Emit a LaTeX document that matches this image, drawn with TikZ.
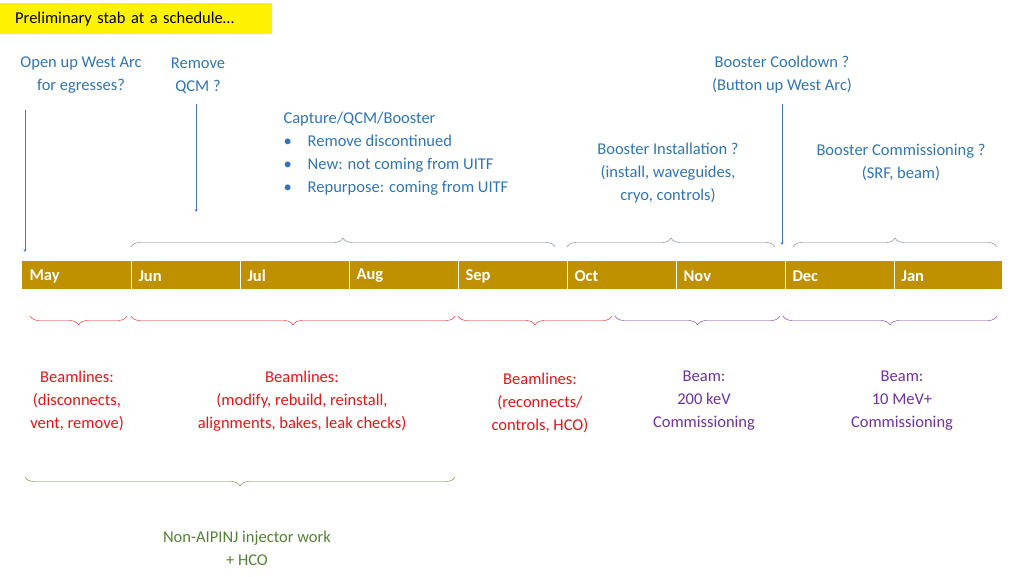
\documentclass[tikz,border=0pt]{standalone}
\usepackage{fontspec}
\setmainfont{Carlito}
\usetikzlibrary{decorations.pathreplacing}
\definecolor{gold}{RGB}{191,144,0}
\definecolor{blu}{RGB}{47,117,181}
\definecolor{arr}{RGB}{68,114,196}
\definecolor{rd}{RGB}{230,20,20}
\definecolor{pur}{RGB}{112,48,160}
\definecolor{grn}{RGB}{84,130,53}
\begin{document}
\begin{tikzpicture}[x=1pt,y=-1pt,
  every node/.style={font=\fontsize{16.5}{23}\selectfont,align=center},
  brace/.style={decorate,decoration={brace,amplitude=9pt}},
  month/.style={text=white,font=\fontsize{16.5}{20}\selectfont\bfseries,anchor=west}]
  \useasboundingbox (0,0) rectangle (1024,576);
  % title
  \node[fill=yellow,minimum width=272pt,minimum height=31pt,anchor=north west,inner xsep=15pt,text width=242pt,align=left] (title) at (0,3) {Preliminary stab at a schedule\dots};
  % month bar
  \fill[gold] (22,261) rectangle (1002,289);
  \foreach \x in {131,240,349,458,567,676,785,894}
    \draw[white,line width=1pt] (\x,261) -- (\x,289);
  \foreach \m [count=\i from 0] in {May,Jun,Jul,Aug,Sep,Oct,Nov,Dec,Jan}
    \node[month] (m\i) at (26+109*\i,276) {\m};
  % top labels
  \node[text=blu] (west) at (81,75) {Open up West Arc\\for egresses?};
  \node[text=blu] (qcm) at (198,76) {Remove\\QCM ?};
  \node[text=blu,anchor=north west,align=left] (cap) at (280,109)
    {Capture/QCM/Booster\\\textbullet\hspace{16pt}Remove discontinued\\\textbullet\hspace{16pt}New: not coming from UITF\\\textbullet\hspace{16pt}Repurpose: coming from UITF};
  \node[text=blu] (inst) at (668,173) {Booster Installation ?\\(install, waveguides,\\cryo, controls)};
  \node[text=blu] (cool) at (782,75) {Booster Cooldown ?\\(Button up West Arc)};
  \node[text=blu] (comm) at (901,162) {Booster Commissioning ?\\(SRF, beam)};
  \coordinate (a1) at (25,252);
  \coordinate (a2) at (196,212);
  \coordinate (a3) at (782,245);
  \draw[arr,-stealth] (25,110) -- (a1);
  \draw[arr,-stealth] (196,104) -- (a2);
  \draw[arr,-stealth] (782,104) -- (a3);
  % top braces
  \draw[gray!80!blu,brace] (131,247) -- (555,247);
  \draw[gray!80!blu,brace] (567,247) -- (775,247);
  \draw[gray!80!blu,brace] (793,247) -- (997,247);
  % bottom braces
  \draw[rd,brace] (127,316) -- (30,316);
  \draw[rd,brace] (455,316) -- (131,316);
  \draw[rd,brace] (612,316) -- (458,316);
  \draw[pur,brace] (780,316) -- (615,316);
  \draw[pur,brace] (997,316) -- (783,316);
  \draw[grn,brace] (455,477) -- (25,477);
  % bottom labels
  \node[text=rd] (b1) at (77,401) {Beamlines:\\(disconnects,\\vent, remove)};
  \node[text=rd] (b2) at (302,401) {Beamlines:\\(modify, rebuild, reinstall,\\alignments, bakes, leak checks)};
  \node[text=rd] (b3) at (540,403) {Beamlines:\\(reconnects/\\controls, HCO)};
  \node[text=pur] (b4) at (704,401) {Beam:\\200 keV\\Commissioning};
  \node[text=pur] (b5) at (902,401) {Beam:\\10 MeV+\\Commissioning};
  \node[text=grn] (b6) at (247,548) {Non-AIPINJ injector work\\+ HCO};
\end{tikzpicture}
\end{document}
